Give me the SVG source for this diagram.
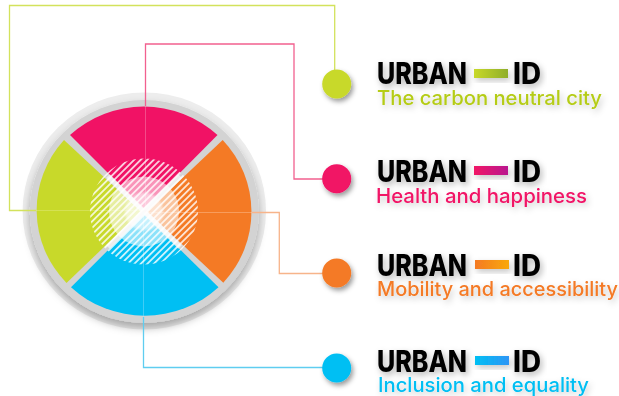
<svg xmlns="http://www.w3.org/2000/svg" width="619" height="396" viewBox="0 0 619 396">
<style>
.ln{fill:none;stroke-width:1.3}
.in{fill:none;stroke-width:1;stroke-opacity:.4}
.t1{font-family:"Inter","Liberation Sans",sans-serif;font-weight:800;font-size:29.500px;fill:#050505;filter:url(#ts)}
.t2{font-family:"Inter","Open Sans",sans-serif;font-weight:500;font-size:20px;filter:url(#ts2)}
.dot{filter:url(#ds)}
</style>
<defs>
<filter id="ts" x="-20%" y="-40%" width="140%" height="190%"><feDropShadow dx="2" dy="3" stdDeviation="3" flood-color="#000" flood-opacity=".3"/></filter>
<filter id="ts2" x="-20%" y="-40%" width="140%" height="190%"><feDropShadow dx="2" dy="3" stdDeviation="3" flood-color="#000" flood-opacity=".22"/></filter>
<filter id="ds" x="-40%" y="-40%" width="190%" height="190%"><feDropShadow dx="2" dy="3" stdDeviation="2.500" flood-color="#000" flood-opacity=".4"/></filter>
<filter id="ring" x="-20%" y="-20%" width="140%" height="140%"><feDropShadow dx="0" dy="5" stdDeviation="4" flood-color="#000" flood-opacity=".3"/></filter>
<filter id="bl" x="-30%" y="-30%" width="160%" height="160%"><feGaussianBlur stdDeviation="1"/></filter>
<pattern id="hatch" width="4.600" height="4.600" patternUnits="userSpaceOnUse" patternTransform="rotate(45)"><rect width="1.800" height="4.600" fill="#fff" fill-opacity=".8"/></pattern>
<linearGradient id="g1"><stop offset="0" stop-color="#c8d92a"/><stop offset="1" stop-color="#8fae2a"/></linearGradient>
<linearGradient id="g2"><stop offset="0" stop-color="#f11265"/><stop offset="1" stop-color="#b9168f"/></linearGradient>
<linearGradient id="g3"><stop offset="0" stop-color="#f47a25"/><stop offset="1" stop-color="#f9a80a"/></linearGradient>
<linearGradient id="g4"><stop offset="0" stop-color="#00bff3"/><stop offset="1" stop-color="#2e95f5"/></linearGradient>
</defs>
<g id="wheel">
<ellipse cx="144.300" cy="211" rx="121.700" ry="118.500" fill="#ededed"/>
<ellipse cx="144.300" cy="211.500" rx="114.500" ry="111.500" fill="#d3d3d3" filter="url(#ring)"/>
<path d="M70 135A108 105.500 0 0 1 217.500 135L144 209Z" fill="#f11265"/>
<path d="M64 140A108 105.500 0 0 0 66.500 283L141 211.500Z" fill="#c8d92a"/>
<path d="M222.700 140A108 105.500 0 0 1 223.300 282.700L147 211.500Z" fill="#f47a25"/>
<path d="M71 287.300A108 105.500 0 0 0 218.500 287.300L144 214Z" fill="#00bff3"/>
</g>
<g id="connectors">
<path class="ln" stroke="#d3e25c" d="M334.700 72V5.500H9.500V210.500H36"/>
<path class="in" stroke="#e6ee90" d="M36 210.500H144"/>
<path class="ln" stroke="#f2608f" d="M145.500 106V44H294V179H337"/>
<path class="in" stroke="#f9a0c0" d="M145.500 106V212"/>
<path class="ln" stroke="#f7b48a" d="M252 212.500H279.300V273.500H337"/>
<path class="in" stroke="#ffd0b0" d="M144 212.500H252"/>
<path class="ln" stroke="#5fcdf0" d="M143.500 317V367.500H337"/>
<path class="in" stroke="#a0e4fa" d="M143.500 212V317"/>
</g>
<g id="wheel-centre">
<ellipse cx="144" cy="211.500" rx="54" ry="53" fill="url(#hatch)"/>
<circle cx="144" cy="211.500" r="35" fill="#fff" fill-opacity=".55"/>
<circle cx="144" cy="211.500" r="19" fill="#fff" fill-opacity=".5" filter="url(#bl)"/>
<path d="M108 176L180 247M180 176L108 247" stroke="#fff" stroke-opacity=".6" stroke-width="5" fill="none"/>
</g>
<g id="node-carbon">
<circle class="dot" cx="336.700" cy="84" r="14.500" fill="#c8d92a"/>
<text class="t1" x="377" y="84" textLength="90" lengthAdjust="spacingAndGlyphs">URBAN</text>
<rect x="474" y="69" width="34" height="9" fill="url(#g1)" filter="url(#ts2)"/>
<text class="t1" x="513" y="84" textLength="28" lengthAdjust="spacingAndGlyphs">ID</text>
<text class="t2" x="377" y="105" textLength="225" lengthAdjust="spacingAndGlyphs" fill="#b5cc18">The carbon neutral city</text>
</g>
<g id="node-health">
<circle class="dot" cx="336.700" cy="178.700" r="14.500" fill="#f11265"/>
<text class="t1" x="377" y="182" textLength="90" lengthAdjust="spacingAndGlyphs">URBAN</text>
<rect x="474" y="166" width="34" height="9" fill="url(#g2)" filter="url(#ts2)"/>
<text class="t1" x="513" y="182" textLength="28" lengthAdjust="spacingAndGlyphs">ID</text>
<text class="t2" x="376" y="203" textLength="211" lengthAdjust="spacingAndGlyphs" fill="#f11265">Health and happiness</text>
</g>
<g id="node-mobility">
<circle class="dot" cx="336.700" cy="273" r="14.500" fill="#f47a25"/>
<text class="t1" x="377" y="276" textLength="90" lengthAdjust="spacingAndGlyphs">URBAN</text>
<rect x="475" y="260" width="34" height="9" fill="url(#g3)" filter="url(#ts2)"/>
<text class="t1" x="513" y="276" textLength="28" lengthAdjust="spacingAndGlyphs">ID</text>
<text class="t2" x="377" y="296" textLength="241" lengthAdjust="spacingAndGlyphs" fill="#f47a25">Mobility and accessibility</text>
</g>
<g id="node-inclusion">
<circle class="dot" cx="336.700" cy="368" r="14.500" fill="#00bff3"/>
<text class="t1" x="377" y="372" textLength="90" lengthAdjust="spacingAndGlyphs">URBAN</text>
<rect x="475" y="356" width="34" height="9" fill="url(#g4)" filter="url(#ts2)"/>
<text class="t1" x="513" y="372" textLength="28" lengthAdjust="spacingAndGlyphs">ID</text>
<text class="t2" x="378" y="392" textLength="211" lengthAdjust="spacingAndGlyphs" fill="#00bff3">Inclusion and equality</text>
</g>
</svg>
